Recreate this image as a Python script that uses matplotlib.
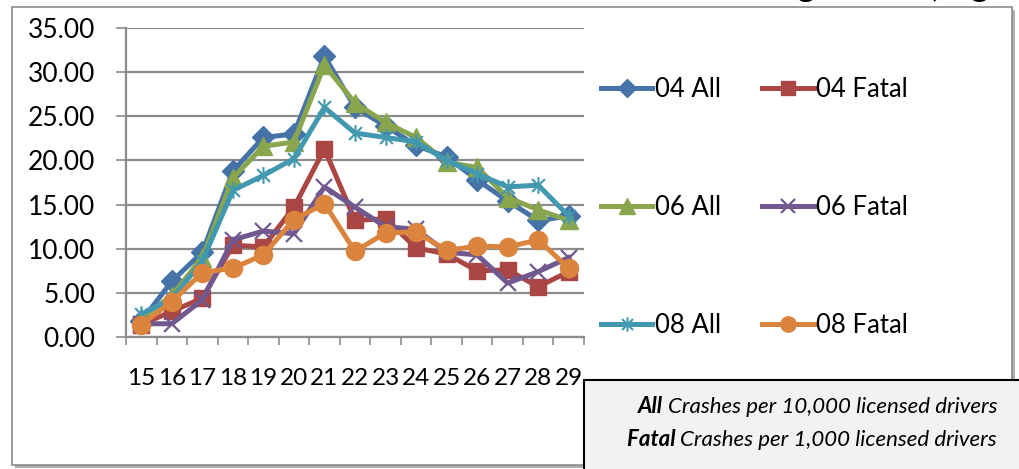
import numpy as np
import matplotlib.pyplot as plt
from matplotlib.path import Path
from matplotlib.patches import Rectangle
from matplotlib.text import Annotation

plt.rcParams['font.family'] = ['Lato', 'DejaVu Sans']

ages = ['15', '16', '17', '18', '19', '20', '21', '22', '23', '24', '25', '26', '27', '28', '29']
all_04 = [1.8, 6.3, 9.6, 18.8, 22.6, 23.0, 31.8, 26.0, 23.9, 21.7, 20.4, 17.8, 15.4, 13.2, 13.7]
fatal_04 = [1.4, 2.9, 4.4, 10.4, 10.2, 14.7, 21.3, 13.2, 13.4, 10.1, 9.4, 7.5, 7.6, 5.7, 7.4]
all_06 = [2.1, 4.7, 9.0, 18.0, 21.6, 22.1, 30.8, 26.5, 24.3, 22.6, 19.8, 19.2, 15.8, 14.4, 13.2]
fatal_06 = [1.5, 1.5, 4.2, 11.0, 12.0, 11.7, 17.0, 14.7, 12.5, 12.2, 9.6, 9.3, 6.1, 7.4, 9.0]
all_08 = [2.6, 4.3, 8.6, 16.6, 18.3, 20.2, 26.0, 23.1, 22.6, 22.1, 20.0, 18.5, 17.0, 17.2, 13.7]
fatal_08 = [1.4, 4.0, 7.3, 7.8, 9.3, 13.3, 15.1, 9.7, 11.8, 11.9, 9.8, 10.3, 10.2, 11.0, 7.8]

labels = ['04 All', '04 Fatal', '06 All', '06 Fatal', '08 All', '08 Fatal']
colors = ['#4572A7', '#AA4643', '#89A54E', '#71588F', '#4198AF', '#DB843D']

star = Path([(-1, -1), (1, 1), (-1, 1), (1, -1), (0, -1.3), (0, 1.3)],
            [Path.MOVETO, Path.LINETO, Path.MOVETO, Path.LINETO, Path.MOVETO, Path.LINETO])

W, H = 1019, 469
fig = plt.figure(figsize=(W / 100, H / 100), dpi=100)

# outer chart frame with shadow
fig.patches.append(Rectangle((15 / W, 1 / H), 1000 / W, 458 / H, transform=fig.transFigure,
                             facecolor='#b0b0b0', edgecolor='none', zorder=-2))
fig.patches.append(Rectangle((12 / W, 4 / H), 1000 / W, 458 / H, transform=fig.transFigure,
                             facecolor='white', edgecolor='#8c8c8c', lw=1.2, zorder=-1))

ax = fig.add_axes([126 / W, (H - 337) / H, 458 / W, 309 / H])
ax.patch.set_alpha(0)
x = np.arange(len(ages))

styles = [
    dict(marker='D', ms=11),
    dict(marker='s', ms=12),
    dict(marker='^', ms=13),
    dict(marker='x', ms=12, mew=1.6),
    dict(marker=star, ms=12, mew=1.5),
    dict(marker='o', ms=13),
]
series = [all_04, fatal_04, all_06, fatal_06, all_08, fatal_08]
handles = []
for vals, lab, col, st in zip(series, labels, colors, styles):
    ln, = ax.plot(x, vals, color=col, lw=3.6, label=lab, clip_on=False,
                  markerfacecolor=col, markeredgecolor=col, solid_joinstyle='round', **st)
    handles.append(ln)

ax.set_xlim(-0.5, len(ages) - 0.5)
ax.set_ylim(0, 35)
ax.set_yticks(np.arange(0, 36, 5))
ax.set_yticklabels(['%.2f' % v for v in np.arange(0, 36, 5)])
ax.yaxis.grid(True, color='#8c8c8c', lw=1.6)
ax.set_axisbelow(True)
ax.set_xticks(np.arange(-0.5, len(ages), 1))
ax.set_xticklabels([])
ax.set_xticks(x, minor=True)
ax.set_xticklabels(ages, minor=True)
ax.tick_params(axis='x', which='major', length=6, width=1.2, color='#8c8c8c')
ax.tick_params(axis='x', which='minor', length=0, pad=22, labelsize=17.5)
ax.tick_params(axis='y', length=7, width=1.2, color='#8c8c8c', pad=15, labelsize=19)
for s in ['top', 'right']:
    ax.spines[s].set_visible(False)
for s in ['left', 'bottom']:
    ax.spines[s].set_color('#8c8c8c')
    ax.spines[s].set_linewidth(1.6)

order = [0, 2, 4, 1, 3, 5]
fig.legend([handles[i] for i in order], [labels[i] for i in order], ncol=2,
           loc='upper left', bbox_to_anchor=(601 / W, (H - 77) / H), frameon=False,
           fontsize=18.5, handlelength=2.0, handletextpad=0.1, columnspacing=1.6,
           labelspacing=3.62, borderpad=0, borderaxespad=0, markerscale=0.85)

# clipped title at the very top
fig.text(1.0 + 100 / W, (H + 3) / H, 'Crash Rates for Young Drivers, Ages 15-29', ha='right',
         va='baseline', fontsize=24, fontweight='bold')

# note box
fig.patches.append(Rectangle((584 / W, -10 / H), 450 / W, (H - 380 + 10) / H, transform=fig.transFigure,
                             facecolor='#f2f2f2', edgecolor='black', lw=1.5, zorder=3))
t1 = fig.text(997 / W, (H - 407) / H, 'Crashes per 10,000 licensed drivers', ha='right', va='center',
              fontsize=16, style='italic', zorder=4)
t2 = fig.text(997 / W, (H - 440) / H, 'Crashes per 1,000 licensed drivers', ha='right', va='center',
              fontsize=16, style='italic', zorder=4)
for word, base in [('All ', t1), ('Fatal ', t2)]:
    a = Annotation(word, xy=(0, 0), xycoords=base, ha='right', va='bottom', fontsize=16,
                   style='italic', fontweight='bold', annotation_clip=False)
    a.set_zorder(4)
    fig.add_artist(a)

fig.savefig('out.png', dpi=100)
